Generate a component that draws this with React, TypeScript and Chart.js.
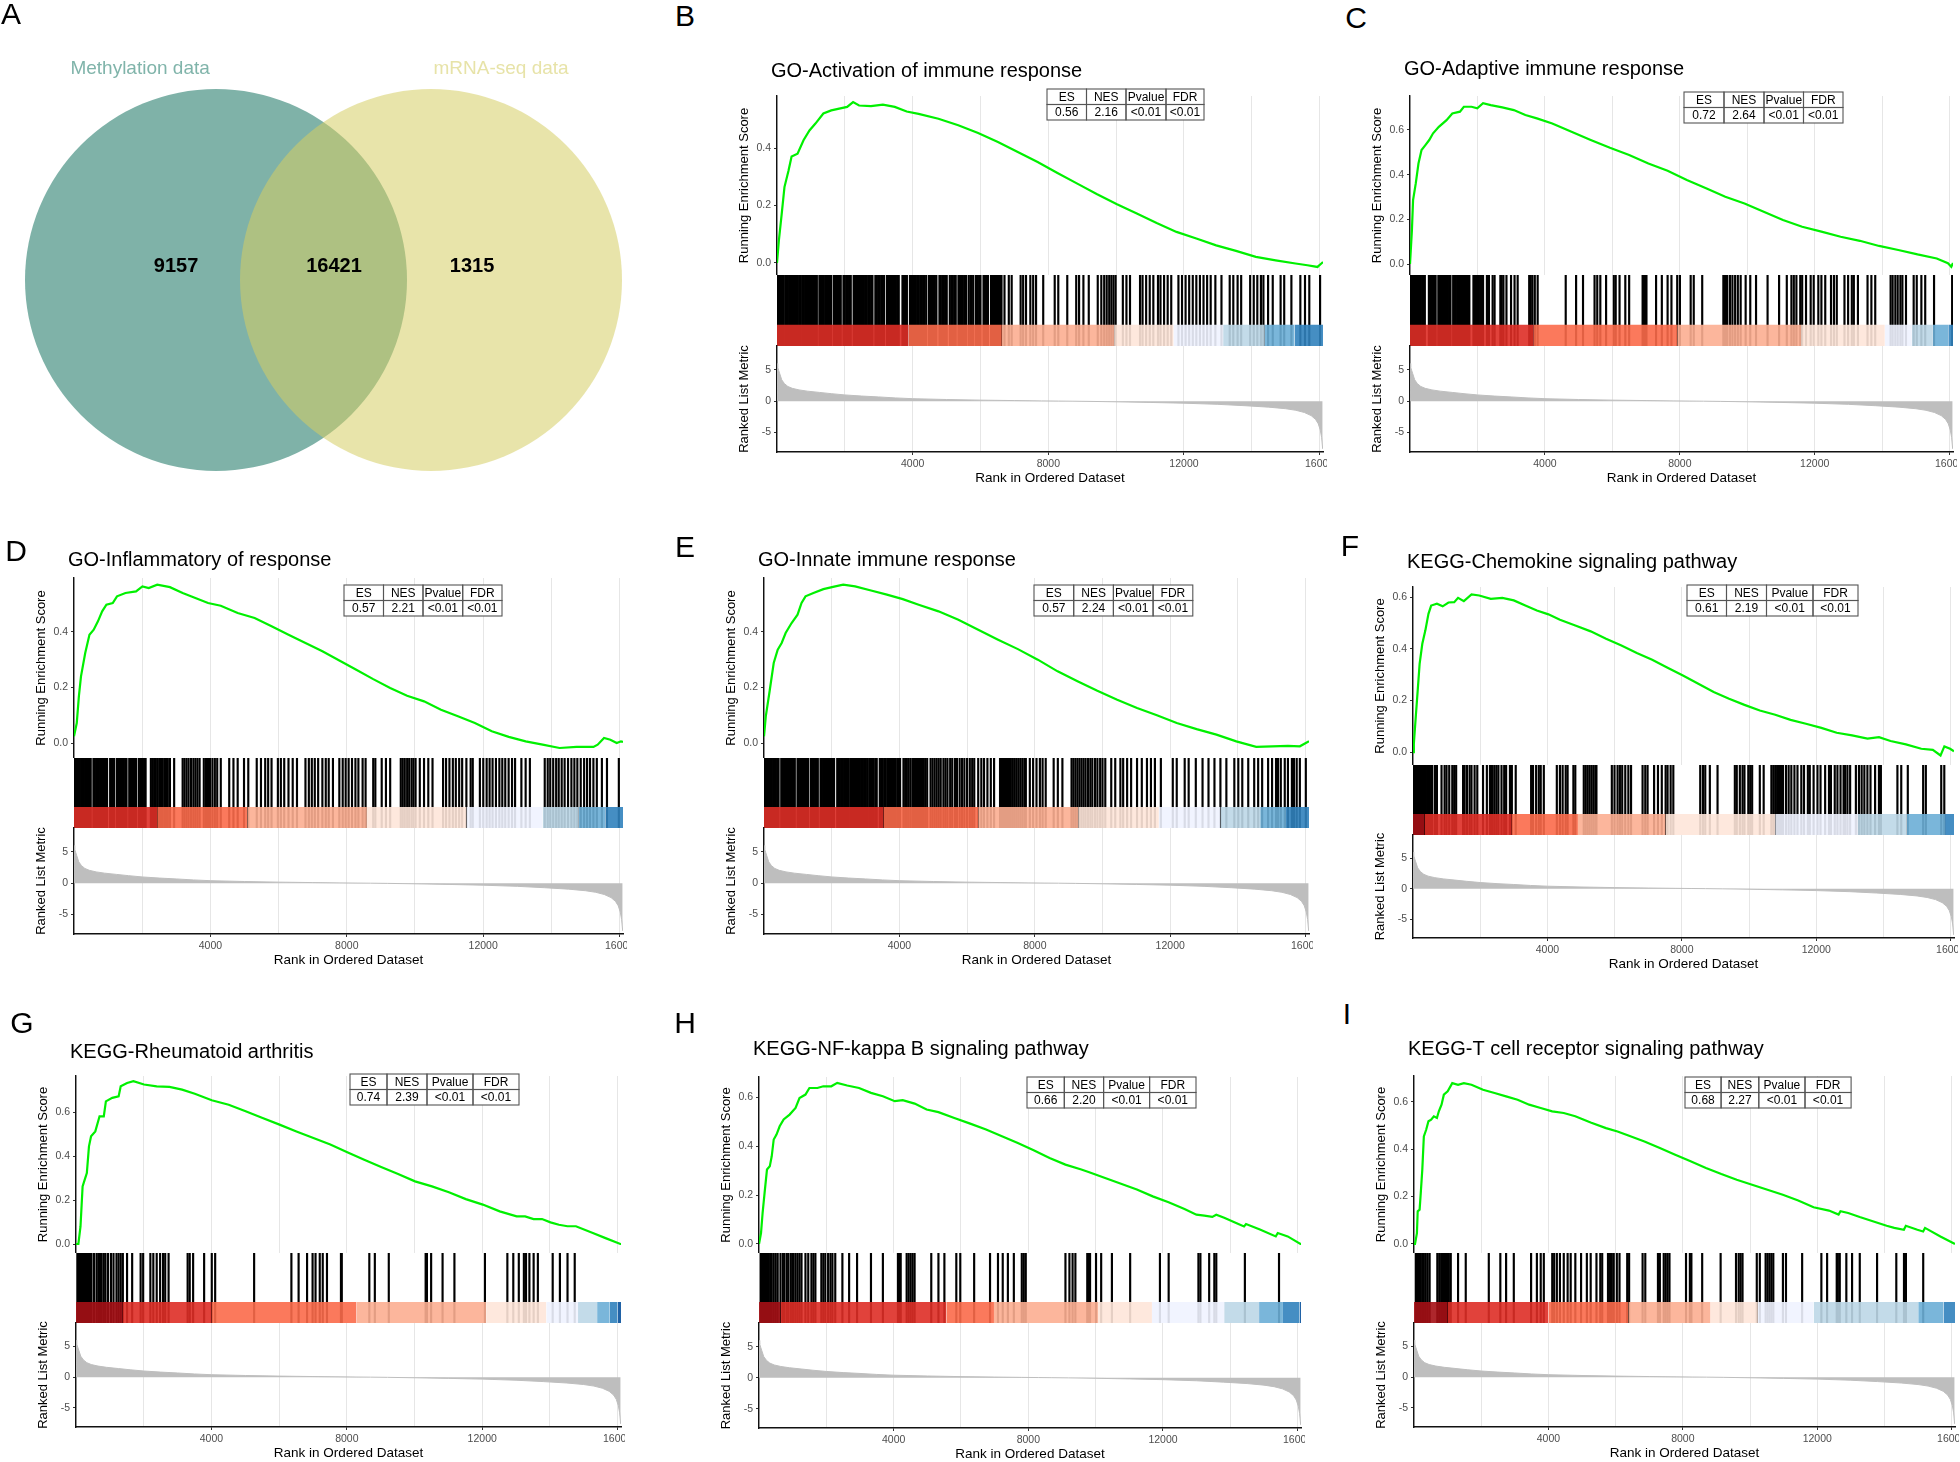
import React, { useEffect, useRef } from 'react';
import { Chart, registerables } from 'chart.js';
Chart.register(...registerables);

const FONT = '"Liberation Sans", Arial, Helvetica, sans-serif';
Chart.defaults.font.family = FONT;

// ---------------- data ----------------
const vennSets = ['Methylation data', 'mRNA-seq data'];
const vennCounts = [9157, 16421, 1315];

const N_GENES = 16100;
const xGridRanks = [0, 2000, 4000, 6000, 8000, 10000, 12000, 14000, 16000];
const xTickLabels = [4000, 8000, 12000, 16000];
const esTickValues = [0, 0.2, 0.4, 0.6];
const rankTickValues = [-5, 0, 5];
const statHeaders = ['ES', 'NES', 'Pvalue', 'FDR'];

// ranked list metric (shared gene list)
const rankX = [1, 20, 50, 80, 140, 220, 320, 450, 650, 900, 1250, 1600, 2000, 2500, 3000, 3500, 4000, 5000, 6000, 7000, 7800, 8300, 8700, 9200, 10000, 11000, 12000, 13000, 13800, 14500, 15000, 15300, 15550, 15750, 15880, 15960, 16020, 16060, 16090];
const rankY = [6.0, 5.4, 4.9, 4.4, 3.4, 2.8, 2.35, 2.05, 1.8, 1.6, 1.4, 1.2, 1.0, 0.82, 0.68, 0.52, 0.4, 0.27, 0.17, 0.1, 0.05, 0.02, 0, -0.03, -0.1, -0.2, -0.32, -0.5, -0.72, -0.95, -1.2, -1.45, -1.8, -2.3, -2.9, -3.6, -4.6, -5.8, -7.6];

const bandPalette = ['#A50F15', '#DE2D26', '#FB6A4A', '#FCAE91', '#FEE5D9', '#EFF3FF', '#BDD7E7', '#6BAED6', '#3182BD', '#08519C'];

// running enrichment scores [rank, ES]
const esB = [[0,0],[56,0.079],[138,0.17],[220,0.264],[337,0.32],[430,0.37],[606,0.38],[782,0.427],[957,0.461],[1133,0.485],[1367,0.52],[1600,0.531],[1835,0.537],[2068,0.543],[2244,0.56],[2420,0.548],[2771,0.546],[3122,0.551],[3473,0.543],[3824,0.527],[4175,0.519],[4760,0.502],[5345,0.479],[5930,0.452],[6515,0.421],[7100,0.386],[7685,0.351],[8270,0.313],[8855,0.276],[9440,0.239],[10025,0.204],[10610,0.172],[11195,0.139],[11780,0.108],[12365,0.085],[12950,0.061],[13535,0.042],[14120,0.021],[14705,0.009],[15290,-0.002],[15640,-0.008],[15935,-0.014],[16052,-0.002],[16100,0.003]];
const esC = [[0,0],[57,0.152],[91,0.286],[171,0.361],[251,0.45],[342,0.51],[456,0.532],[570,0.555],[684,0.585],[855,0.614],[1083,0.644],[1254,0.674],[1482,0.682],[1596,0.704],[1824,0.704],[1995,0.697],[2166,0.72],[2394,0.711],[2736,0.701],[3078,0.689],[3420,0.667],[3762,0.652],[4218,0.629],[4788,0.592],[5358,0.555],[5928,0.52],[6498,0.488],[7068,0.45],[7638,0.418],[8208,0.376],[8778,0.339],[9348,0.301],[9918,0.271],[10488,0.234],[11058,0.197],[11628,0.167],[12198,0.145],[12768,0.122],[13338,0.104],[13908,0.081],[14478,0.063],[15048,0.043],[15618,0.025],[15950,0.004],[16050,-0.012],[16100,0.005]];
const esD = [[0,0.024],[81,0.072],[143,0.168],[205,0.24],[329,0.324],[453,0.39],[578,0.408],[702,0.438],[826,0.474],[950,0.498],[1136,0.504],[1261,0.528],[1509,0.54],[1820,0.546],[2006,0.564],[2192,0.558],[2441,0.57],[2813,0.561],[3186,0.54],[3559,0.522],[3931,0.504],[4304,0.494],[4800,0.468],[5297,0.45],[5794,0.42],[6291,0.39],[6788,0.36],[7285,0.33],[7781,0.297],[8278,0.264],[8775,0.23],[9272,0.198],[9768,0.17],[10265,0.15],[10762,0.12],[11259,0.096],[11756,0.072],[12252,0.042],[12749,0.022],[13246,0.006],[13743,-0.006],[14240,-0.018],[14737,-0.014],[15233,-0.014],[15357,-0.006],[15544,0.018],[15730,0.012],[15916,0],[16040,0.006],[16100,0.004]];
const esE = [[0,0.024],[53,0.096],[170,0.19],[287,0.288],[405,0.336],[522,0.36],[639,0.396],[815,0.432],[991,0.462],[1109,0.504],[1226,0.528],[1460,0.54],[1754,0.554],[2105,0.564],[2340,0.57],[2692,0.564],[3161,0.549],[3630,0.534],[4100,0.518],[4569,0.498],[5155,0.474],[5742,0.444],[6328,0.408],[6915,0.372],[7501,0.338],[8088,0.3],[8674,0.258],[9261,0.222],[9847,0.188],[10434,0.156],[11020,0.126],[11607,0.1],[12193,0.072],[12780,0.05],[13366,0.03],[13953,0.006],[14540,-0.014],[15009,-0.012],[15478,-0.01],[15830,-0.012],[16006,0],[16100,0.006]];
const esF = [[0,0],[25,0.032],[82,0.136],[140,0.239],[197,0.342],[277,0.42],[368,0.472],[460,0.536],[540,0.568],[712,0.575],[883,0.565],[1055,0.58],[1227,0.581],[1341,0.598],[1513,0.585],[1742,0.611],[1971,0.607],[2314,0.594],[2657,0.598],[3000,0.588],[3343,0.568],[3686,0.549],[4030,0.534],[4373,0.513],[4830,0.491],[5288,0.468],[5745,0.439],[6203,0.413],[6660,0.384],[7118,0.358],[7576,0.327],[8033,0.297],[8491,0.265],[8948,0.233],[9406,0.207],[9864,0.183],[10321,0.161],[10779,0.145],[11236,0.125],[11694,0.11],[12152,0.094],[12609,0.075],[13067,0.065],[13525,0.052],[13868,0.058],[14211,0.043],[14669,0.03],[15126,0.013],[15470,0.009],[15699,-0.013],[15813,0.022],[15985,0.013],[16100,0.003]];
const esG = [[0,0],[70,0],[133,0.08],[195,0.263],[258,0.294],[320,0.324],[383,0.446],[445,0.492],[570,0.514],[696,0.583],[821,0.583],[883,0.651],[1071,0.667],[1259,0.674],[1321,0.72],[1509,0.735],[1696,0.743],[2009,0.728],[2384,0.72],[2760,0.717],[3135,0.705],[3510,0.686],[4010,0.656],[4511,0.636],[5011,0.606],[5512,0.575],[6012,0.545],[6512,0.514],[7013,0.484],[7513,0.454],[8014,0.419],[8514,0.385],[9014,0.352],[9515,0.32],[10015,0.286],[10516,0.263],[11016,0.236],[11516,0.205],[12017,0.18],[12517,0.149],[13017,0.126],[13267,0.126],[13517,0.114],[13767,0.114],[14017,0.099],[14267,0.088],[14518,0.081],[14768,0.081],[15268,0.05],[15643,0.027],[16081,0],[16100,0]];
const esH = [[0,0],[25,0],[60,0.045],[107,0.127],[166,0.209],[237,0.305],[320,0.318],[378,0.359],[437,0.428],[520,0.448],[614,0.482],[732,0.51],[909,0.53],[1086,0.557],[1203,0.598],[1380,0.612],[1498,0.639],[1734,0.639],[1911,0.646],[2147,0.646],[2324,0.66],[2619,0.649],[2972,0.639],[3326,0.619],[3680,0.605],[4033,0.585],[4269,0.589],[4623,0.575],[4977,0.551],[5330,0.54],[5802,0.516],[6273,0.493],[6745,0.469],[7216,0.441],[7688,0.414],[8159,0.384],[8631,0.352],[9102,0.325],[9574,0.305],[9810,0.294],[10281,0.27],[10753,0.247],[11224,0.223],[11696,0.195],[12167,0.171],[12639,0.143],[12993,0.12],[13229,0.116],[13465,0.111],[13583,0.12],[13819,0.107],[14172,0.086],[14408,0.072],[14467,0.082],[14880,0.059],[15351,0.031],[15410,0.045],[15705,0.031],[16082,0],[16100,0]];
const esI = [[0,0],[30,0],[87,0.046],[110,0.138],[167,0.145],[201,0.215],[247,0.314],[293,0.454],[362,0.482],[430,0.518],[510,0.525],[590,0.539],[682,0.532],[739,0.56],[819,0.588],[888,0.63],[1002,0.644],[1139,0.679],[1311,0.672],[1483,0.679],[1711,0.672],[2054,0.651],[2397,0.637],[2740,0.623],[3083,0.609],[3427,0.588],[3770,0.574],[4113,0.56],[4456,0.553],[4799,0.539],[5257,0.513],[5714,0.489],[6057,0.475],[6400,0.457],[6858,0.433],[7316,0.405],[7773,0.377],[8231,0.349],[8688,0.321],[9146,0.295],[9604,0.271],[10061,0.25],[10519,0.229],[10976,0.208],[11434,0.184],[11891,0.155],[12349,0.141],[12635,0.124],[12692,0.138],[12921,0.131],[13264,0.114],[13722,0.093],[14065,0.077],[14293,0.068],[14579,0.06],[14637,0.077],[14980,0.06],[15151,0.053],[15208,0.068],[15666,0.032],[16100,0]];

// gene set hit ranks
const hitsB = [5,45,90,130,175,240,280,320,360,400,445,490,530,575,615,660,700,745,790,830,870,915,960,1000,1045,1090,1130,1175,1250,1290,1330,1375,1420,1460,1505,1545,1590,1670,1710,1755,1800,1840,1880,1960,2000,2045,2090,2130,2175,2260,2300,2345,2390,2430,2475,2520,2560,2600,2645,2690,2730,2775,2815,2900,2945,2990,3030,3075,3120,3160,3245,3290,3330,3375,3420,3460,3505,3545,3590,3700,3745,3790,3830,3920,3965,4010,4050,4095,4140,4180,4225,4270,4310,4355,4400,4480,4525,4570,4610,4655,4700,4790,4830,4875,4920,4960,5005,5095,5140,5180,5225,5270,5350,5395,5440,5480,5525,5570,5650,5700,5745,5790,5870,5915,5960,6000,6090,6135,6180,6220,6310,6355,6400,6440,6485,6530,6575,6620,6708,6835,6920,7184,7258,7343,7470,7554,7639,7850,8189,8294,8559,8823,8908,9035,9193,9458,9563,9648,9722,9796,9860,9923,9986,10198,10304,10409,10705,10779,10885,10991,11097,11234,11308,11414,11520,11625,11837,11943,12048,12154,12260,12365,12471,12577,12683,12788,12926,13106,13349,13455,13582,13687,13952,14058,14163,14269,14343,14481,14618,14850,14956,15168,15432,15569,15696,16014];
const hitsC = [5,40,80,120,160,200,240,280,320,360,400,440,560,600,640,680,720,760,840,880,920,960,1000,1040,1080,1120,1160,1200,1280,1320,1360,1400,1440,1480,1520,1560,1600,1640,1680,1720,1760,1881,1920,1960,2000,2040,2080,2120,2166,2280,2340,2450,2508,2679,2720,2770,2860,2996,3100,3192,3534,3580,3630,3700,3785,4617,4925,5130,5472,5552,5643,5814,6042,6099,6213,6384,6498,6897,6940,6970,7011,7296,7467,7638,7752,7923,8003,8322,8413,8664,9291,9330,9370,9405,9485,9560,9640,9720,9804,9952,10089,10260,10602,10944,11172,11309,11380,11457,11571,11628,11742,11880,11970,12107,12198,12312,12483,12570,12654,12882,12990,13100,13160,13281,13566,13680,13794,14250,14310,14390,14460,14540,14600,14706,14934,15025,15162,15276,15538,16074];
const hitsD = [5,45,90,130,170,210,250,290,330,370,410,450,490,570,610,650,690,730,770,810,850,890,930,970,1060,1100,1140,1180,1260,1300,1340,1380,1420,1460,1500,1540,1620,1660,1700,1740,1780,1820,1900,1940,1980,2020,2060,2100,2254,2300,2350,2400,2450,2500,2550,2600,2650,2700,2751,2813,2937,3186,3240,3300,3360,3430,3500,3560,3620,3683,3807,3870,3930,3990,4060,4130,4200,4304,4552,4676,4800,4986,5111,5359,5483,5607,5694,5793,5979,6066,6165,6290,6414,6539,6788,6887,6974,7061,7160,7284,7383,7470,7594,7781,7880,7967,8054,8153,8253,8340,8464,8551,8775,8837,9024,9148,9272,9583,9640,9700,9770,9830,9900,9955,10017,10141,10265,10390,10514,10824,10911,11010,11110,11197,11296,11383,11507,11632,11694,11903,12002,12101,12188,12275,12374,12474,12560,12647,12746,12846,12935,13120,13245,13369,13805,13892,13966,14053,14140,14215,14302,14388,14488,14587,14674,14761,14860,14960,15046,15133,15232,15332,15481,15630,15978];
const hitsE = [5,40,80,115,150,190,230,270,310,350,390,430,510,550,590,630,670,710,750,790,830,870,910,990,1030,1070,1110,1150,1190,1230,1270,1310,1390,1430,1470,1510,1550,1590,1670,1710,1750,1790,1830,1870,1910,1950,1990,2030,2070,2163,2200,2240,2280,2330,2370,2420,2460,2500,2550,2600,2640,2690,2730,2780,2830,2870,2920,2960,3010,3060,3110,3161,3200,3240,3290,3330,3420,3460,3500,3550,3590,3640,3680,3720,3760,3810,3850,3890,3940,3980,4020,4120,4170,4220,4276,4334,4400,4460,4520,4580,4640,4700,4760,4820,4921,4979,5040,5100,5160,5220,5300,5360,5420,5500,5560,5640,5700,5780,5850,5920,6000,6080,6150,6211,6328,6420,6500,6600,6700,6797,6973,7030,7090,7150,7210,7270,7330,7390,7450,7510,7570,7630,7690,7735,7853,7950,8050,8150,8230,8322,8557,8680,8815,9085,9140,9200,9260,9320,9380,9440,9500,9570,9640,9700,9780,9850,9930,10000,10082,10258,10376,10528,10610,10727,10845,11020,11161,11313,11431,11548,11724,12076,12193,12428,12545,12756,12955,13131,13307,13483,13659,13894,14011,14129,14305,14481,14598,14716,14892,15009,15126,15185,15267,15384,15478,15595,15654,15736,15830,16006];
const hitsF = [25,60,100,140,180,220,260,300,340,380,420,460,500,540,574,655,712,849,940,998,1078,1169,1226,1284,1490,1535,1604,1684,1741,1833,1913,2084,2198,2290,2324,2370,2427,2485,2542,2634,2714,2771,2885,2942,3057,3515,3572,3664,3744,3801,3893,4280,4372,4453,4544,4601,4773,4830,5082,5139,5196,5253,5310,5367,5425,5459,5917,5997,6088,6157,6226,6317,6409,6489,6832,6912,6981,7175,7290,7404,7518,7576,7667,7747,8548,8628,8697,8834,9063,9578,9635,9727,9807,9864,9978,10035,10093,10321,10436,10665,10722,10779,10836,10893,10951,11008,11099,11179,11259,11351,11442,11556,11636,11751,11808,11922,12037,12128,12265,12380,12437,12551,12631,12723,12814,12860,12929,13009,13180,13272,13352,13432,13523,13615,13752,13867,13924,14416,14530,14725,15182,15262,15720,15811];
const hitsG = [40,75,108,135,158,185,208,235,258,285,308,330,358,385,408,433,458,533,608,660,708,758,821,871,946,1033,1108,1196,1258,1321,1384,1508,1659,1909,1984,2197,2284,2384,2485,2572,2635,2735,3298,3360,3460,3785,4011,4111,5262,6363,6576,6826,6989,7076,7201,7289,7414,7827,7852,8665,8828,9240,10329,10366,10491,10829,11179,12080,12743,12918,13081,13231,13294,13394,13519,13644,14082,14295,14520,14733];
const hitsH = [48,84,119,166,202,237,284,331,378,437,496,555,638,709,756,826,873,944,992,1027,1086,1145,1204,1263,1380,1463,1557,1616,1675,1852,1911,1970,2053,2123,2182,2265,2477,2677,2913,3326,3680,4127,4174,4209,4386,4445,4504,4563,4622,5117,5330,5507,5861,5979,6391,6863,7099,7240,7393,7570,7806,7865,7924,9103,9221,9315,9398,9751,9787,9834,10011,10164,10483,11025,11910,12169,13053,13112,13372,13525,13584,14433,15447];
const hitsI = [53,87,133,167,201,247,293,350,407,465,694,751,808,865,922,980,1037,1094,1311,1540,2226,2569,2741,2970,3485,3657,3771,3863,4114,4171,4251,4343,4457,4572,4663,4801,4972,5144,5258,5430,5544,5601,5773,5830,5887,5944,6036,6116,6345,6402,6803,6883,7260,7317,7432,7489,7546,7603,8095,8210,8255,8576,9125,9583,9663,9720,9777,10201,10292,10464,10521,10578,10635,10693,10979,11070,11551,12123,12294,12580,12614,12671,12866,13037,13266,13781,14353,14582,14639,15154];

// colour-band segment boundaries (ranks)
const bandB = [0, 3882, 6630, 9940, 11694, 13155, 14373, 15263, 16100];
const bandC = [0, 3671, 7923, 11594, 14079, 14877, 15504, 15960, 16100];
const bandD = [0, 2440, 5086, 8589, 11508, 13743, 14799, 15581, 16100];
const bandE = [0, 3536, 6327, 9283, 11665, 13484, 14657, 15420, 16100];
const bandF = [0, 345, 2941, 4909, 7518, 10779, 13238, 14691, 15835, 16100];
const bandG = [0, 1384, 4011, 8289, 12117, 13893, 14831, 15394, 15769, 16000, 16100];
const bandH = [0, 638, 5565, 6980, 10069, 11672, 13818, 14856, 15564, 16059, 16100];
const bandI = [0, 1004, 3999, 6379, 8827, 10234, 11893, 15005, 15760, 16100];

const statsB = ['0.56', '2.16', '<0.01', '<0.01'];
const statsC = ['0.72', '2.64', '<0.01', '<0.01'];
const statsD = ['0.57', '2.21', '<0.01', '<0.01'];
const statsE = ['0.57', '2.24', '<0.01', '<0.01'];
const statsF = ['0.61', '2.19', '<0.01', '<0.01'];
const statsG = ['0.74', '2.39', '<0.01', '<0.01'];
const statsH = ['0.66', '2.20', '<0.01', '<0.01'];
const statsI = ['0.68', '2.27', '<0.01', '<0.01'];

// ---------------- layout (pixels) ----------------
const YW = 64;
const RK_PAD = 12;
const BAND_H = 0.3;
const layB = { x0: 777, W: 546, titleY: 71, tableTop: 89, tableDx: 270, cols: [39.5, 39.5, 40, 38], esTop: 96, hitsTop: 275, bandBot: 346, axisBot: 452, esMin: -0.042, esMax: 0.581, letter: [685, 15] };
const layC = { x0: 1410, W: 543, titleY: 69, tableTop: 92, tableDx: 274, cols: [40, 40, 39.5, 39.5], esTop: 96, hitsTop: 275, bandBot: 346, axisBot: 452, esMin: -0.049, esMax: 0.752, letter: [1356, 17] };
const layD = { x0: 74, W: 549, titleY: 560, tableTop: 585, tableDx: 270, cols: [39.5, 39.5, 39.7, 39.3], esTop: 578, hitsTop: 758, bandBot: 828, axisBot: 934, esMin: -0.054, esMax: 0.594, letter: [16, 550] };
const layE = { x0: 764, W: 545, titleY: 560, tableTop: 585, tableDx: 270, cols: [39.7, 39.7, 39.7, 39.7], esTop: 578, hitsTop: 758, bandBot: 828, axisBot: 934, esMin: -0.054, esMax: 0.594, letter: [685, 546] };
const layF = { x0: 1413, W: 541, titleY: 562, tableTop: 585, tableDx: 274, cols: [39.5, 40, 46.5, 45], esTop: 587, hitsTop: 765, bandBot: 835, axisBot: 938, esMin: -0.05, esMax: 0.64, letter: [1350, 545] };
const layG = { x0: 76, W: 545, titleY: 1052, tableTop: 1074, tableDx: 274, cols: [37, 40, 46, 46], esTop: 1076, hitsTop: 1253, bandBot: 1323, axisBot: 1427, esMin: -0.041, esMax: 0.767, letter: [22, 1022] };
const layH = { x0: 759, W: 542, titleY: 1049, tableTop: 1077, tableDx: 268, cols: [37.3, 39.3, 46, 46.4], esTop: 1077, hitsTop: 1253, bandBot: 1323, axisBot: 1428, esMin: -0.037, esMax: 0.684, letter: [685, 1022] };
const layI = { x0: 1414, W: 541, titleY: 1049, tableTop: 1077, tableDx: 271, cols: [36.1, 37.7, 46.2, 46.1], esTop: 1076, hitsTop: 1253, bandBot: 1323, axisBot: 1427, esMin: -0.038, esMax: 0.709, letter: [1347, 1013] };

const vennLayout = { left: 0, top: 0, width: 650, height: 560, xMin: -1.0047, xMax: 2.0186, radius: 191,
  labelPos: [[-0.353, 0.754], [1.326, 0.754]], countPos: [[-0.186, 0.05], [0.549, 0.05], [1.191, 0.05]] };

const panels = [
  { key: 'B', title: 'GO-Activation of immune response', es: esB, hits: hitsB, band: bandB, bandStart: 1, stats: statsB, lay: layB },
  { key: 'C', title: 'GO-Adaptive immune response', es: esC, hits: hitsC, band: bandC, bandStart: 1, stats: statsC, lay: layC },
  { key: 'D', title: 'GO-Inflammatory of response', es: esD, hits: hitsD, band: bandD, bandStart: 1, stats: statsD, lay: layD },
  { key: 'E', title: 'GO-Innate immune response', es: esE, hits: hitsE, band: bandE, bandStart: 1, stats: statsE, lay: layE },
  { key: 'F', title: 'KEGG-Chemokine signaling pathway', es: esF, hits: hitsF, band: bandF, bandStart: 0, stats: statsF, lay: layF },
  { key: 'G', title: 'KEGG-Rheumatoid arthritis', es: esG, hits: hitsG, band: bandG, bandStart: 0, stats: statsG, lay: layG },
  { key: 'H', title: 'KEGG-NF-kappa B signaling pathway', es: esH, hits: hitsH, band: bandH, bandStart: 0, stats: statsH, lay: layH },
  { key: 'I', title: 'KEGG-T cell receptor signaling pathway', es: esI, hits: hitsI, band: bandI, bandStart: 0, stats: statsI, lay: layI },
];

const GRID = '#e6e6e6';
const TICK = '#4d4d4d';
const AXIS = '#111111';

function rgba(hex: string, a: number) {
  const n = parseInt(hex.slice(1), 16);
  return `rgba(${(n >> 16) & 255},${(n >> 8) & 255},${n & 255},${a})`;
}

const baseOpts = () => ({
  animation: false as const, responsive: false, events: [] as any[],
  plugins: { legend: { display: false }, tooltip: { enabled: false }, title: { display: false } },
});

const setTicks = (vals: number[]) => (s: any) => {
  s.ticks = vals.filter((v) => v >= s.min - 1e-9 && v <= s.max + 1e-9).map((v) => ({ value: v }));
};
const noPad = (s: any) => { s.paddingTop = 0; s.paddingBottom = 0; s.paddingLeft = 0; s.paddingRight = 0; };
const fitW = (w: number) => (s: any) => { s.width = w; noPad(s); };
const fitH = (h: number) => (s: any) => { s.height = h; noPad(s); };

function esConfig(p: any, canvasTop: number) {
  const L = p.lay;
  return {
    type: 'line',
    data: { datasets: [{ data: p.es.map((d: number[]) => ({ x: d[0], y: d[1] })), borderColor: '#00f000', borderWidth: 2.2, pointRadius: 0, tension: 0, fill: false }] },
    options: {
      ...baseOpts(),
      layout: { padding: { left: 0, right: 2, top: L.esTop - canvasTop, bottom: 0 }, autoPadding: false },
      scales: {
        x: { type: 'linear', min: 0, max: N_GENES, afterBuildTicks: setTicks(xGridRanks), ticks: { display: false, autoSkip: false },
          grid: { color: GRID, lineWidth: 1, drawTicks: false, tickLength: 0 }, border: { display: false },
          afterFit: fitH(0) },
        y: { type: 'linear', min: L.esMin, max: L.esMax, afterBuildTicks: setTicks(esTickValues),
          ticks: { autoSkip: false, color: TICK, font: { size: 10.5 }, padding: 3, callback: (v: any) => Number(v).toFixed(1) },
          grid: { drawOnChartArea: false, tickLength: 3, tickColor: '#333' }, border: { display: true, color: AXIS, width: 1.4 },
          title: { display: true, text: 'Running Enrichment Score', color: '#000', font: { size: 13 }, padding: { top: 24, bottom: 0 } },
          afterFit: fitW(YW) },
      },
    },
    plugins: [{
      id: 'titleTable' + p.key,
      afterDraw(chart: any) {
        const ctx = chart.ctx; const ca = chart.chartArea;
        ctx.save();
        ctx.fillStyle = '#000'; ctx.font = `20px ${FONT}`; ctx.textAlign = 'left'; ctx.textBaseline = 'middle';
        ctx.fillText(p.title, ca.left - 6, L.titleY - canvasTop);
        const rh = 15.5; const top = L.tableTop - canvasTop;
        let x = ca.left + L.tableDx;
        const tw = L.cols.reduce((a: number, b: number) => a + b, 0);
        ctx.fillStyle = '#fff'; ctx.fillRect(x, top, tw, rh * 2);
        ctx.strokeStyle = '#555'; ctx.lineWidth = 1.1;
        ctx.font = `12px ${FONT}`; ctx.textAlign = 'center';
        for (let i = 0; i < L.cols.length; i++) {
          ctx.strokeRect(x, top, L.cols[i], rh);
          ctx.strokeRect(x, top + rh, L.cols[i], rh);
          ctx.fillStyle = '#000';
          ctx.fillText(statHeaders[i], x + L.cols[i] / 2, top + rh / 2 + 0.5);
          ctx.fillText(p.stats[i], x + L.cols[i] / 2, top + rh * 1.5 + 0.5);
          x += L.cols[i];
        }
        ctx.restore();
      },
    }],
  };
}

function hitsConfig(p: any) {
  const ds: any[] = [];
  for (let i = 0; i < p.band.length - 1; i++) {
    ds.push({ type: 'line', data: [{ x: p.band[i], y: BAND_H }, { x: p.band[i + 1], y: BAND_H }], fill: 'origin',
      backgroundColor: rgba(bandPalette[p.bandStart + i], 0.9), borderColor: 'rgba(0,0,0,0)', borderWidth: 0, pointRadius: 0, order: 0 });
  }
  ds.push({ type: 'bar', data: p.hits.map((h: number) => ({ x: h, y: 1 })), backgroundColor: '#000', barThickness: 1.5, grouped: false, borderWidth: 0, order: 1 });
  return {
    type: 'line', data: { datasets: ds },
    options: { ...baseOpts(), layout: { padding: 0, autoPadding: false },
      scales: { x: { type: 'linear', min: 0, max: N_GENES, display: false, offset: false }, y: { type: 'linear', min: 0, max: 1, display: false } } },
  };
}

function rankConfig(p: any) {
  return {
    type: 'line',
    data: { datasets: [{ data: rankX.map((x, i) => ({ x, y: rankY[i] })), borderColor: '#bebebe', backgroundColor: '#bebebe', borderWidth: 1, fill: 'origin', pointRadius: 0, tension: 0 }] },
    options: {
      ...baseOpts(),
      layout: { padding: { left: 0, right: 4, top: RK_PAD, bottom: 0 }, autoPadding: false },
      scales: {
        x: { type: 'linear', min: 0, max: N_GENES, afterBuildTicks: setTicks(xGridRanks),
          ticks: { autoSkip: false, maxRotation: 0, minRotation: 0, color: TICK, font: { size: 10.5 }, padding: 3,
            callback: (v: any) => (xTickLabels.includes(Number(v)) ? String(v) : '') },
          grid: { color: GRID, lineWidth: 1, tickLength: 3,
            tickColor: (c: any) => (c.tick && xTickLabels.includes(c.tick.value) ? '#333' : 'rgba(0,0,0,0)') },
          border: { display: true, color: AXIS, width: 1.4 },
          title: { display: true, text: 'Rank in Ordered Dataset', color: '#000', font: { size: 13.5 }, padding: { top: 0, bottom: 2 } },
          afterFit: fitH(36) },
        y: { type: 'linear', min: -8.1, max: 8.8, afterBuildTicks: setTicks(rankTickValues),
          ticks: { autoSkip: false, color: TICK, font: { size: 10.5 }, padding: 3 },
          grid: { drawOnChartArea: false, tickLength: 3, tickColor: '#333' }, border: { display: true, color: AXIS, width: 1.4 },
          title: { display: true, text: 'Ranked List Metric', color: '#000', font: { size: 13 }, padding: { top: 24, bottom: 0 } },
          afterFit: fitW(YW) },
      },
    },
  };
}

function vennConfig() {
  const V = vennLayout;
  return {
    type: 'scatter',
    data: { datasets: [
      { data: [{ x: 1, y: 0 }], pointRadius: V.radius, pointHoverRadius: V.radius, pointBackgroundColor: 'rgba(212,205,99,0.545)', pointBorderWidth: 0, order: 0 },
      { data: [{ x: 0, y: 0 }], pointRadius: V.radius, pointHoverRadius: V.radius, pointBackgroundColor: '#7fb2a8', pointBorderWidth: 0, order: 1 },
    ] },
    options: { ...baseOpts(), layout: { padding: 0, autoPadding: false },
      scales: { x: { type: 'linear', min: V.xMin, max: V.xMax, display: false }, y: { type: 'linear', min: -1, max: 1, display: false } } },
    plugins: [{
      id: 'vennText',
      afterDraw(chart: any) {
        const ctx = chart.ctx; const sx = chart.scales.x; const sy = chart.scales.y;
        ctx.save(); ctx.textAlign = 'center'; ctx.textBaseline = 'middle';
        const labelColors = ['#80b4aa', '#e7e3a8'];
        ctx.font = `19px ${FONT}`;
        vennSets.forEach((s, i) => {
          ctx.fillStyle = labelColors[i];
          ctx.fillText(s, sx.getPixelForValue(V.labelPos[i][0]), sy.getPixelForValue(V.labelPos[i][1]));
        });
        ctx.font = `bold 20px ${FONT}`; ctx.fillStyle = '#000';
        vennCounts.forEach((c, i) => {
          ctx.fillText(String(c), sx.getPixelForValue(V.countPos[i][0]), sy.getPixelForValue(V.countPos[i][1]));
        });
        ctx.restore();
      },
    }],
  };
}

function ChartBox({ left, top, width, height, make }: any) {
  const ref = useRef<HTMLCanvasElement>(null);
  useEffect(() => {
    const c = new Chart(ref.current as HTMLCanvasElement, make());
    return () => c.destroy();
  }, []);
  return (
    <div style={{ position: 'absolute', left, top, width, height }}>
      <canvas ref={ref} width={width} height={height} style={{ display: 'block', width, height }} />
    </div>
  );
}

function Letter({ ch, pos }: any) {
  return (
    <div style={{ position: 'absolute', left: pos[0] - 20, top: pos[1] - 14.4, width: 40, textAlign: 'center', fontFamily: FONT, fontSize: 30, lineHeight: '30px', color: '#000' }}>{ch}</div>
  );
}

function GseaPanel({ p }: any) {
  const L = p.lay;
  const esTop = L.titleY - 18;
  return (
    <>
      <ChartBox left={L.x0 - YW} top={esTop} width={YW + L.W + 2} height={L.hitsTop - esTop} make={() => esConfig(p, esTop)} />
      <ChartBox left={L.x0} top={L.hitsTop} width={L.W} height={L.bandBot - L.hitsTop} make={() => hitsConfig(p)} />
      <ChartBox left={L.x0 - YW} top={L.bandBot - RK_PAD} width={YW + L.W + 4} height={L.axisBot - L.bandBot + 36 + RK_PAD} make={() => rankConfig(p)} />
    </>
  );
}

export default function App() {
  useEffect(() => { document.body.style.margin = '0'; }, []);
  const V = vennLayout;
  return (
    <div style={{ position: 'absolute', left: 0, top: 0, width: 1960, height: 1462, background: '#fff', overflow: 'hidden' }}>
      <ChartBox left={V.left} top={V.top} width={V.width} height={V.height} make={vennConfig} />
      {panels.map((p) => <GseaPanel key={p.key} p={p} />)}
      <Letter ch="A" pos={[11, 13]} />
      {panels.map((p) => <Letter key={'l' + p.key} ch={p.key} pos={p.lay.letter} />)}
    </div>
  );
}
